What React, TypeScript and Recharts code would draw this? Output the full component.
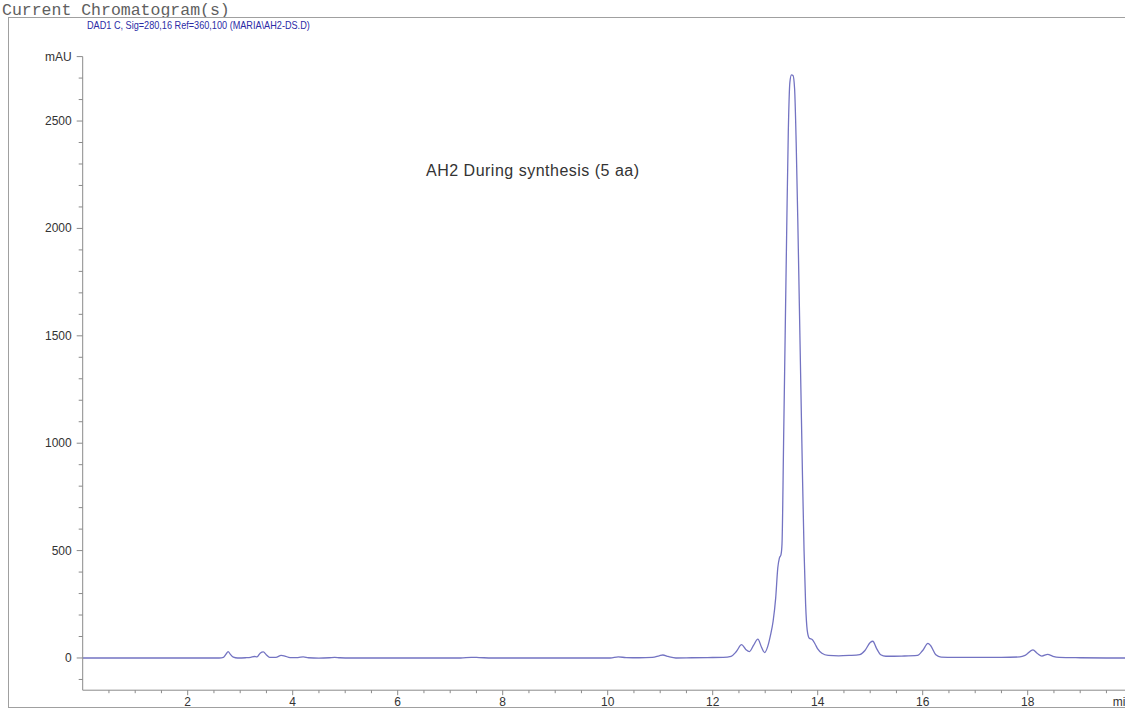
import { LineChart, Line, XAxis, YAxis } from "recharts";

// retention time (min) and absorbance (mAU)
const retentionTime = [
  0, 1.0, 2.0, 2.6, 2.68, 2.73, 2.77, 2.81, 2.87, 2.95,
  3.1, 3.2, 3.27, 3.32, 3.38, 3.44, 3.5, 3.56, 3.68, 3.78,
  3.85, 3.95, 4.1, 4.2, 4.3, 4.5, 4.7, 4.8, 4.9, 5.1,
  6.0, 7.2, 7.4, 7.55, 7.8, 9.0, 10.05, 10.2, 10.35, 10.6,
  10.85, 10.98, 11.05, 11.15, 11.3, 11.6, 11.9, 12.2, 12.35, 12.45,
  12.55, 12.63, 12.7, 12.78, 12.86, 12.93, 12.99, 13.05, 13.1, 13.15,
  13.2, 13.24, 13.27, 13.3, 13.32, 13.35, 13.38, 13.41, 13.44, 13.47,
  13.5, 13.53, 13.56, 13.59, 13.62, 13.65, 13.68, 13.71, 13.74, 13.77,
  13.8, 13.84, 13.9, 13.95, 14.0, 14.08, 14.2, 14.4, 14.6, 14.8,
  14.9, 15.0, 15.05, 15.12, 15.2, 15.3, 15.6, 15.9, 16.0, 16.1,
  16.15, 16.25, 16.35, 16.6, 17.0, 17.5, 17.85, 17.95, 18.1, 18.18,
  18.27, 18.38, 18.48, 18.6, 19.0, 19.5, 20.0,
];

const absorbance = [
  0, 0, 0, 0, 3, 18, 30, 18, 4, 0,
  1, 3, 7, 5, 22, 28, 14, 3, 3, 12,
  9, 2, 2, 5, 1, -1, 1, 3, 1, 0,
  0, 0, 3, 2, 0, 0, 0, 5, 2, 1,
  3, 10, 14, 7, 0, 1, 2, 3, 8, 30,
  62, 40, 30, 60, 88, 50, 25, 55, 105, 170,
  280, 420, 465, 480, 530, 1000, 1500, 2000, 2450, 2680,
  2715, 2712, 2650, 2400, 2050, 1650, 1250, 850, 500, 250,
  130, 92, 85, 65, 42, 22, 12, 10, 12, 16,
  35, 72, 78, 45, 15, 8, 9, 12, 35, 68,
  58, 15, 4, 3, 3, 3, 5, 12, 38, 22,
  9, 17, 8, 3, 1, 0, 0,
];

const xTicks = [
  0.5, 1, 1.5, 2, 2.5, 3, 3.5, 4, 4.5, 5, 5.5, 6, 6.5, 7, 7.5, 8, 8.5, 9, 9.5, 10,
  10.5, 11, 11.5, 12, 12.5, 13, 13.5, 14, 14.5, 15, 15.5, 16, 16.5, 17, 17.5, 18,
  18.5, 19, 19.5, 20,
];

const yTicks = [
  -100, 0, 100, 200, 300, 400, 500, 600, 700, 800, 900, 1000, 1100, 1200, 1300, 1400,
  1500, 1600, 1700, 1800, 1900, 2000, 2100, 2200, 2300, 2400, 2500, 2600, 2700, 2800,
];

const data = retentionTime.map((t, i) => ({ t, mAU: absorbance[i] }));

const axisGray = "#8a8a8a";
const labelColor = "#333";
const font = "Arial, 'Liberation Sans', sans-serif";

function YTick({ x, y, payload }: any) {
  const v = payload.value as number;
  const major = v % 500 === 0;
  const isUnit = v === 2800;
  const len = major || isUnit ? 6 : 4;
  let text: string | null = null;
  if (isUnit) text = "mAU";
  else if (major && v >= 0) text = String(v);
  return (
    <g>
      <line x1={x - len} y1={y} x2={x} y2={y} stroke={axisGray} strokeWidth={1} />
      {text && (
        <text
          x={x - 11}
          y={y}
          dy={4}
          textAnchor="end"
          fontSize={12}
          fontFamily={font}
          fill={labelColor}
        >
          {text}
        </text>
      )}
    </g>
  );
}

function XTick({ x, y, payload }: any) {
  const v = payload.value as number;
  const major = v % 2 === 0;
  const len = major ? 5 : 3;
  return (
    <g>
      <line x1={x} y1={y} x2={x} y2={y + len} stroke={axisGray} strokeWidth={1} />
      {v === 20 ? (
        <text x={x - 20} y={y + 16} textAnchor="start" fontSize={12} fontFamily={font} fill={labelColor}>
          min
        </text>
      ) : major ? (
        <text x={x} y={y + 16} textAnchor="middle" fontSize={12} fontFamily={font} fill={labelColor}>
          {v}
        </text>
      ) : null}
    </g>
  );
}

export default function App() {
  return (
    <div
      style={{
        position: "absolute",
        left: 0,
        top: 0,
        width: 1125,
        height: 713,
        overflow: "hidden",
        background: "#fff",
      }}
    >
      <div
        style={{
          position: "absolute",
          left: 2,
          top: 2,
          fontFamily: "'Liberation Mono', 'DejaVu Sans Mono', monospace",
          fontSize: 16.5,
          lineHeight: "17px",
          color: "#606060",
          whiteSpace: "nowrap",
        }}
      >
        Current Chromatogram(s)
      </div>
      <div
        style={{
          position: "absolute",
          left: 8,
          top: 17,
          width: 1140,
          height: 689,
          border: "1.5px solid #a0a0a0",
        }}
      />
      <div
        style={{
          position: "absolute",
          left: 87,
          top: 19,
          fontFamily: font,
          fontSize: 11,
          transform: "scaleX(0.83)",
          transformOrigin: "left top",
          color: "#2b2ba6",
          whiteSpace: "nowrap",
        }}
      >
        DAD1 C, Sig=280,16 Ref=360,100 (MARIA\AH2-DS.D)
      </div>
      <div
        style={{
          position: "absolute",
          left: 426,
          top: 162,
          fontFamily: font,
          fontSize: 16,
          letterSpacing: 0.5,
          color: labelColor,
          whiteSpace: "nowrap",
        }}
      >
        AH2 During synthesis (5 aa)
      </div>
      <div style={{ position: "absolute", left: 0, top: 0 }}>
        <LineChart
          width={1150}
          height={713}
          data={data}
          margin={{ top: 56.6, right: 17.3, bottom: 2.8, left: 22.7 }}
        >
          <XAxis
            dataKey="t"
            type="number"
            domain={[0, 20]}
            ticks={xTicks}
            interval={0}
            allowDataOverflow
            height={20}
            tickSize={0}
            tickMargin={0}
            stroke={axisGray}
            tick={<XTick />}
          />
          <YAxis
            type="number"
            domain={[-150, 2800]}
            ticks={yTicks}
            interval={0}
            allowDataOverflow
            width={60}
            tickSize={0}
            tickMargin={0}
            stroke={axisGray}
            tick={<YTick />}
          />
          <Line
            type="monotone"
            dataKey="mAU"
            stroke="#7373c2"
            strokeWidth={1.3}
            dot={false}
            activeDot={false}
            isAnimationActive={false}
          />
        </LineChart>
      </div>
    </div>
  );
}
